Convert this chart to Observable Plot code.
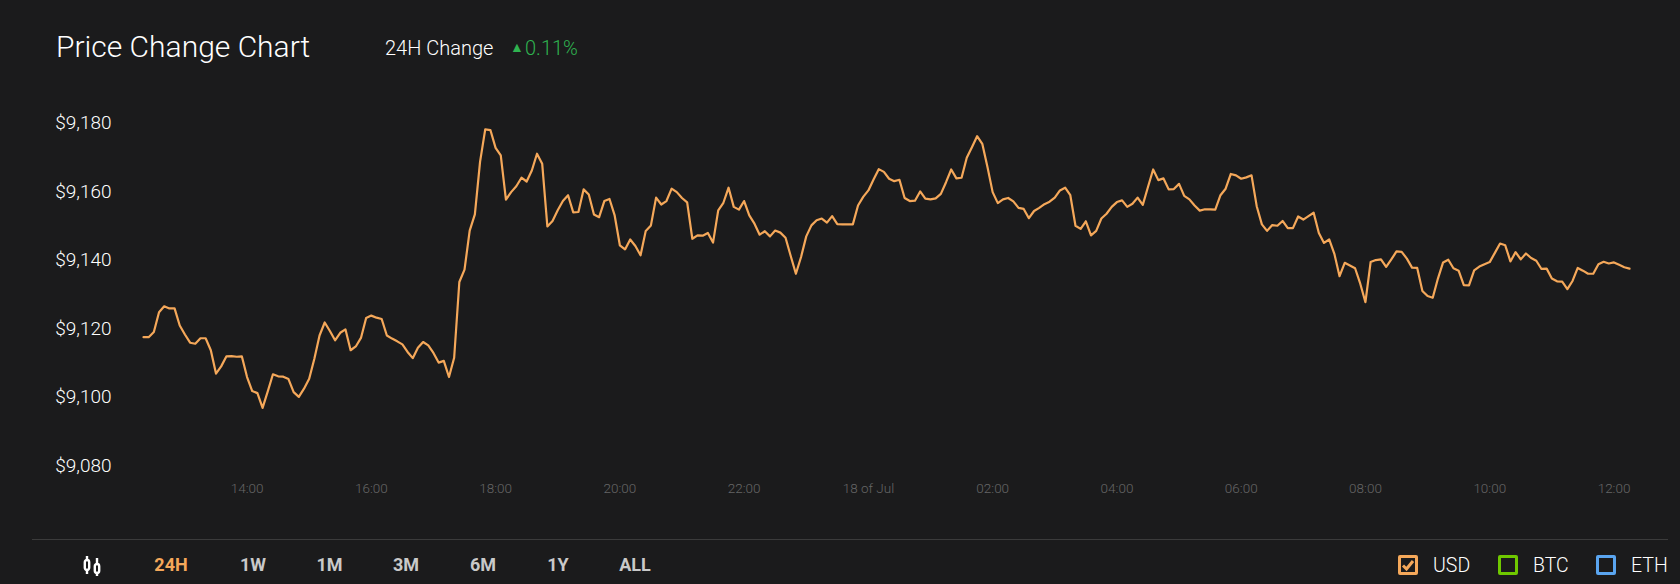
<!DOCTYPE html>
<html><head><meta charset="utf-8">
<script src="https://cdn.jsdelivr.net/npm/d3@7"></script>
<script src="https://cdn.jsdelivr.net/npm/@observablehq/plot@0.6"></script>
<style>
html,body{margin:0;padding:0;background:#1b1b1c;width:1680px;height:584px;overflow:hidden;font-family:Roboto,sans-serif;color:#f2f2f2}
#head{position:relative;height:90px}
#head span,#foot span,#foot svg.abs{position:absolute;white-space:nowrap}
#title{left:56px;top:29px;font-size:30px;font-weight:300;line-height:36px;color:#fff}
#chg{left:385px;top:36px;font-size:20px;font-weight:300;line-height:24px;color:#fff}
#arrow{left:510px;top:38px;font-size:14px;line-height:18px;color:#2fb350}
#pct{left:525px;top:36px;font-size:20px;font-weight:300;line-height:24px;color:#2fb350}
#chart{height:440px}
#chart svg{display:block;background:transparent}
#foot{position:relative;height:54px}
#rule{position:absolute;left:32px;width:1636px;top:9px;height:1px;background:#3b3b3b}
.rng{font-size:18px;font-weight:700;color:#c9c9c9;line-height:22px;top:24px;transform:translateX(-50%)}
.leg{font-size:19.5px;font-weight:300;color:#fff;line-height:22px;top:25px}
.box{box-sizing:border-box;width:20px;height:20px;border:3px solid;border-radius:2px;top:25px}
</style></head><body>
<div id="head">
  <span id="title">Price Change Chart</span>
  <span id="chg">24H Change</span>
  <span id="arrow">▲</span>
  <span id="pct">0.11%</span>
</div>
<div id="chart"></div>
<div id="foot"><div id="rule"></div></div>
<script>
const prices = [
9117.4,9117.4,9118.9,9124.7,9126.4,9125.8,9125.8,9120.8,9118.2,9115.8,9115.5,9117.1,9117.1,9113.6,9106.8,9108.9,
9111.8,9111.9,9111.7,9111.8,9105.8,9101.7,9101.1,9096.8,9101.6,9106.6,9106.0,9105.9,9105.2,9101.4,9100.0,9102.4,
9105.3,9111.1,9117.9,9121.7,9119.2,9116.5,9118.7,9119.7,9113.6,9114.7,9117.2,9123.0,9123.7,9123.1,9122.7,9117.9,
9117.0,9116.2,9115.3,9113.1,9111.3,9114.3,9116.0,9115.0,9112.8,9110.0,9110.5,9105.8,9111.4,9133.5,9137.1,9148.5,
9153.2,9168.5,9178.0,9177.8,9172.6,9170.4,9157.5,9159.7,9161.4,9163.9,9162.8,9166.0,9170.9,9168.0,9149.7,9151.3,
9154.4,9157.1,9158.8,9153.8,9153.9,9160.5,9159.0,9153.2,9152.4,9157.1,9157.7,9152.9,9144.2,9143.0,9145.9,9144.0,
9141.3,9148.4,9150.0,9158.1,9156.1,9157.1,9160.7,9159.7,9158.0,9156.7,9146.1,9147.1,9147.0,9147.8,9145.0,9154.4,
9156.6,9161.0,9155.4,9154.6,9157.1,9152.9,9150.5,9147.3,9148.3,9146.8,9148.5,9147.9,9146.4,9141.1,9135.9,9140.8,
9146.8,9150.0,9151.5,9152.0,9150.8,9152.7,9150.4,9150.3,9150.3,9150.3,9155.8,9158.3,9160.2,9163.4,9166.4,9165.6,
9163.6,9162.9,9163.3,9158.0,9157.1,9157.2,9159.9,9157.8,9157.6,9157.9,9159.2,9162.6,9166.3,9163.7,9163.9,9169.7,
9172.8,9176.0,9173.8,9167.0,9159.7,9156.5,9157.6,9158.0,9157.0,9155.1,9154.8,9152.1,9154.2,9155.1,9156.2,9156.9,
9158.1,9160.2,9161.0,9158.8,9149.9,9149.0,9151.2,9147.1,9148.4,9152.0,9153.4,9155.4,9156.8,9157.3,9155.4,9156.3,
9158.1,9156.0,9161.2,9166.3,9163.2,9163.7,9160.5,9160.6,9162.1,9158.6,9157.6,9155.8,9154.3,9154.7,9154.7,9154.6,
9158.8,9160.7,9165.0,9164.6,9163.6,9164.0,9164.6,9155.6,9150.3,9148.4,9150.1,9149.9,9151.3,9149.2,9149.2,9152.6,
9151.7,9152.7,9153.7,9147.8,9144.9,9145.9,9141.7,9135.2,9139.1,9138.3,9137.5,9133.0,9127.6,9139.3,9139.9,9140.1,
9137.9,9140.1,9142.4,9142.3,9140.3,9137.7,9137.6,9130.9,9129.4,9128.9,9134.5,9139.2,9140.0,9137.5,9136.8,9132.6,
9132.5,9136.9,9138.0,9138.7,9139.3,9142.0,9144.7,9144.2,9139.5,9142.2,9140.1,9141.8,9140.5,9139.7,9137.3,9137.4,
9134.5,9133.7,9133.6,9131.4,9133.8,9137.6,9136.8,9135.9,9135.9,9138.7,9139.4,9138.9,9139.2,9138.5,9137.8,9137.4
];
const startTime = Date.UTC(2020, 6, 17, 12, 18);
const stepMs = 5 * 60 * 1000;
const yTicks = [9080, 9100, 9120, 9140, 9160, 9180];
const xTickTimes = [
  Date.UTC(2020,6,17,14), Date.UTC(2020,6,17,16), Date.UTC(2020,6,17,18), Date.UTC(2020,6,17,20),
  Date.UTC(2020,6,17,22), Date.UTC(2020,6,18,0), Date.UTC(2020,6,18,2), Date.UTC(2020,6,18,4),
  Date.UTC(2020,6,18,6), Date.UTC(2020,6,18,8), Date.UTC(2020,6,18,10), Date.UTC(2020,6,18,12)
].map(t => new Date(t));
const xTickLabels = ["14:00","16:00","18:00","20:00","22:00","18 of Jul","02:00","04:00","06:00","08:00","10:00","12:00"];
const rangeLabels = ["24H","1W","1M","3M","6M","1Y","ALL"];
const rangeCenters = [171,253,329.5,406,483,558,635];
const legendLabels = ["USD","BTC","ETH"];
const legendColors = ["#f5a85a","#6fc800","#5aa5f0"];
const legendBoxX = [1398,1498,1596];
const legendTextX = [1433,1533,1631];

const rows = prices.map((price, i) => ({time: new Date(startTime + i * stepMs), price}));

const plot = Plot.plot({
  width: 1680, height: 440,
  marginLeft: 143, marginRight: 51, marginTop: 32, marginBottom: 65,
  style: {background: "transparent", fontFamily: "Roboto, sans-serif"},
  x: {type: "utc", domain: [rows[0].time, rows[rows.length-1].time], label: null},
  y: {domain: [9080, 9180], label: null},
  marks: [
    Plot.axisY(yTicks, {
      anchor: "left", tickSize: 0, tickPadding: 32, label: null,
      tickFormat: d => "$" + d3.format(",")(d),
      fontSize: 19, fontWeight: 300, fill: "#ffffff", dy: 0.5
    }),
    Plot.axisX(xTickTimes, {
      anchor: "bottom", tickSize: 0, tickPadding: 17.5, label: null,
      tickFormat: d => xTickLabels[xTickTimes.findIndex(t => +t === +d)],
      fontSize: 13.5, fontWeight: 300, fill: "#666666", dx: -2
    }),
    Plot.line(rows, {x: "time", y: "price", stroke: "#f5a85a", strokeWidth: 2.2, curve: "linear"})
  ]
});
document.getElementById("chart").append(plot);

const foot = document.getElementById("foot");
rangeLabels.forEach((t, i) => {
  const s = document.createElement("span");
  s.className = "rng";
  s.textContent = t;
  s.style.left = rangeCenters[i] + "px";
  if (i === 0) s.style.color = "#f5a85a";
  foot.append(s);
});
legendLabels.forEach((t, i) => {
  const b = document.createElement("span");
  b.className = "box";
  b.style.left = legendBoxX[i] + "px";
  b.style.borderColor = legendColors[i];
  if (i === 0) {
    b.innerHTML = '<svg width="14" height="14" viewBox="0 0 14 14" style="display:block"><path d="M2 7.5 L5.5 11 L12 3" fill="none" stroke="#f5a85a" stroke-width="3"/></svg>';
  }
  foot.append(b);
  const s = document.createElement("span");
  s.className = "leg";
  s.textContent = t;
  s.style.left = legendTextX[i] + "px";
  foot.append(s);
});
foot.insertAdjacentHTML("beforeend",
  '<svg class="abs" style="left:82px;top:26px" width="20" height="20" viewBox="0 0 20 20" fill="none" stroke="#fff" stroke-width="2.4"><path d="M5 0V4M5 14V18M15 2V8M15 17V20"/><rect x="2.8" y="4" width="4.4" height="10" rx="2.2"/><rect x="12.8" y="8" width="4.4" height="9" rx="2.2"/></svg>');
</script>
</body></html>
